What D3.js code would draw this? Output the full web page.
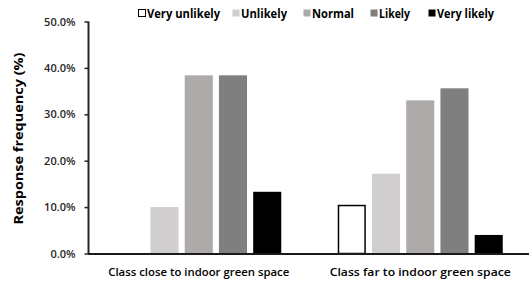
<!DOCTYPE html>
<html><head><meta charset="utf-8">
<script src="https://cdn.jsdelivr.net/npm/d3@7"></script>
<style>body{margin:0;background:#fff}svg{display:block}</style>
</head><body>
<script>
const categories = ["Class close to indoor green space", "Class far to indoor green space"];
const seriesNames = ["Very unlikely", "Unlikely", "Normal", "Likely", "Very likely"];
const veryUnlikely = [0, 10.5];
const unlikely = [10.0, 17.2];
const normal = [38.4, 33.0];
const likely = [38.4, 35.6];
const veryLikely = [13.3, 4.0];
const yTicks = [0, 10, 20, 30, 40, 50];
const colors = ["#ffffff", "#d0cece", "#aeaaaa", "#7f7f7f", "#000000"];
const seriesValues = [veryUnlikely, unlikely, normal, likely, veryLikely];

const W = 529, H = 281;
const svg = d3.select("body").append("svg").attr("width", W).attr("height", H);
const font = "'Open Sans', 'Noto Sans', sans-serif";

const x0 = d3.scaleBand().domain(categories).range([88, 531]).paddingInner(0.255).paddingOuter(0.1275);
const x1 = d3.scaleBand().domain(seriesNames).range([0, x0.bandwidth()]).paddingInner(0.18);
const y = d3.scaleLinear().domain([0, 50]).range([253.5, 21.5]);

// bars
categories.forEach((c, ci) => {
  const g = svg.append("g").attr("transform", `translate(${x0(c)},0)`);
  seriesNames.forEach((s, si) => {
    const v = seriesValues[si][ci];
    if (v <= 0) return;
    g.append("rect")
      .attr("x", x1(s) + (si === 0 ? 0.75 : 0))
      .attr("y", y(v) + (si === 0 ? 0.75 : 0))
      .attr("width", x1.bandwidth() - (si === 0 ? 1.5 : 0))
      .attr("height", y(0) - y(v) - (si === 0 ? 0.75 : 0))
      .attr("fill", colors[si])
      .attr("stroke", si === 0 ? "#000" : "none")
      .attr("stroke-width", 1.5);
  });
});

// y axis
const yAxis = d3.axisLeft(y).tickValues(yTicks).tickSize(4).tickPadding(9)
  .tickFormat(d => d.toFixed(1) + "%");
const ga = svg.append("g").attr("transform", "translate(88.5,0)").call(yAxis);
ga.select(".domain").attr("stroke", "#262626").attr("stroke-width", 2).attr("d", `M0,${y(50)}V${y(0)}`);
ga.selectAll(".tick line").attr("stroke", "#262626").attr("stroke-width", 1.5);
ga.selectAll(".tick text").attr("fill", "#262626").style("font-family", font).style("font-size", "11px")
  .style("font-weight", "600");

// baseline
svg.append("line").attr("x1", 88).attr("x2", W).attr("y1", y(0) + 0.5).attr("y2", y(0) + 0.5)
  .attr("stroke", "#1a1a1a").attr("stroke-width", 2);

// category labels
svg.selectAll(".cat").data(categories).enter().append("text")
  .attr("x", d => x0(d) + x0.bandwidth() / 2).attr("y", 276)
  .attr("text-anchor", "middle").attr("fill", "#000")
  .style("font-family", font).style("font-size", "11.5px").style("font-weight", "600")
  .attr("textLength", 181).attr("lengthAdjust", "spacingAndGlyphs")
  .text(d => d);

// y label
svg.append("text").attr("transform", "translate(23,138.5) rotate(-90)")
  .attr("text-anchor", "middle").style("font-family", font).style("font-size", "12.5px")
  .style("font-weight", "bold").attr("fill", "#000")
  .attr("textLength", 172).attr("lengthAdjust", "spacingAndGlyphs")
  .text("Response frequency (%)");

// legend
const legX = [138, 232, 303, 370, 428];
const legW = [73, 46, 42, 31, 57];
const leg = svg.selectAll(".leg").data(seriesNames).enter().append("g")
  .attr("transform", (d, i) => `translate(${legX[i]},9)`);
leg.append("rect").attr("x", 0.5).attr("y", 0.5).attr("width", 7).attr("height", 7)
  .attr("fill", (d, i) => colors[i]).attr("stroke", (d, i) => i === 0 ? "#000" : "none").attr("stroke-width", 1);
leg.append("text").attr("x", 9).attr("y", 8.5)
  .style("font-family", font).style("font-size", "11.5px").style("font-weight", "bold")
  .attr("textLength", (d, i) => legW[i]).attr("lengthAdjust", "spacingAndGlyphs")
  .attr("fill", "#000").text(d => d);
</script>
</body></html>
